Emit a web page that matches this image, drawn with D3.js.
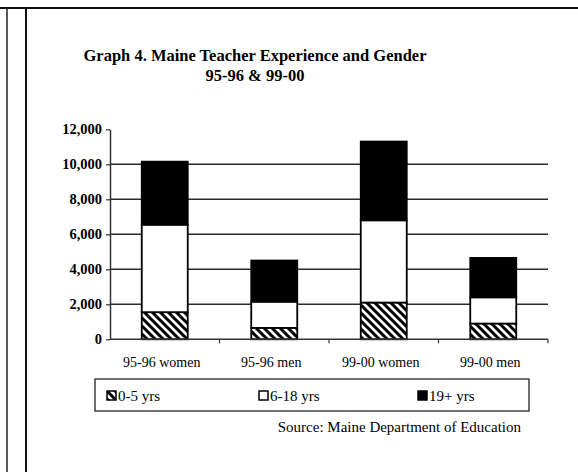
<!DOCTYPE html>
<html>
<head>
<meta charset="utf-8">
<script src="https://cdn.jsdelivr.net/npm/d3@7"></script>
<style>
  html, body { margin: 0; padding: 0; background: #fff; }
  svg text { font-family: "Liberation Serif", "Times New Roman", serif; fill: #000; }
</style>
</head>
<body>
<svg id="chart" width="578" height="472"></svg>
<script>
// chart data
let categories = ['95-96 women', '95-96 men', '99-00 women', '99-00 men'];
let seriesNames = ['0-5 yrs', '6-18 yrs', '19+ yrs'];
let yrs0to5 = [1550, 650, 2100, 900];
let yrs6to18 = [5000, 1500, 4700, 1500];
let yrs19plus = [3600, 2350, 4500, 2250];
let yTicks = [0, 2000, 4000, 6000, 8000, 10000, 12000];
let titleLines = ['Graph 4. Maine Teacher Experience and Gender', '95-96 & 99-00'];
let sourceText = 'Source: Maine Department of Education';

let svg = d3.select('#chart');
let width = +svg.attr('width');
let height = +svg.attr('height');

// page frame (scanned document borders)
svg.append('line')
  .attr('x1', 0).attr('x2', width).attr('y1', 8).attr('y2', 8)
  .attr('stroke', '#111').attr('stroke-width', 2);
svg.append('line')
  .attr('x1', 7).attr('x2', 7).attr('y1', 8).attr('y2', height)
  .attr('stroke', '#222').attr('stroke-width', 1.5);
svg.append('line')
  .attr('x1', 26).attr('x2', 26).attr('y1', 8).attr('y2', height)
  .attr('stroke', '#111').attr('stroke-width', 2);

// patterns
let defs = svg.append('defs');
let hatch = defs.append('pattern')
  .attr('id', 'hatch')
  .attr('patternUnits', 'userSpaceOnUse')
  .attr('width', 8).attr('height', 8);
hatch.append('rect').attr('width', 8).attr('height', 8).attr('fill', '#fff');
hatch.append('path')
  .attr('d', 'M-2,-2 L10,10 M-2,6 L2,10 M6,-2 L10,2')
  .attr('stroke', '#000').attr('stroke-width', 3);

let fills = ['url(#hatch)', '#fff', '#000'];

// title
svg.selectAll('.title')
  .data(titleLines)
  .enter()
  .append('text')
  .attr('class', 'title')
  .attr('x', 255)
  .attr('y', (d,i) => 61 + i*20)
  .attr('text-anchor', 'middle')
  .attr('font-size', 16.5)
  .attr('font-weight', 'bold')
  .text(d => d);

// scales
let sx = d3.scaleBand()
  .domain(categories)
  .range([110, 548])
  .paddingInner(0.58)
  .paddingOuter(0.29);

let sy = d3.scaleLinear()
  .domain([0, 12000])
  .range([339.3, 129.3]);

// grid lines
svg.selectAll('.grid')
  .data(yTicks.filter(d => d > 0 && d < 12000))
  .enter()
  .append('line')
  .attr('class', 'grid')
  .attr('x1', 110).attr('x2', 548)
  .attr('y1', d => sy(d)).attr('y2', d => sy(d))
  .attr('stroke', '#2a2a2a')
  .attr('stroke-width', 1.5);

// y axis
let yAxis = svg.append('g')
  .attr('transform', 'translate(110,0)')
  .call(d3.axisLeft(sy).tickValues(yTicks).tickSize(4).tickSizeOuter(0).tickFormat(d3.format(',')));
yAxis.select('.domain').attr('stroke', '#333').attr('stroke-width', 1.5);
yAxis.selectAll('.tick line').attr('stroke', '#333').attr('stroke-width', 1.2);
yAxis.selectAll('.tick text')
  .attr('x', -8)
  .style('font-size', '14.5px')
  .style('font-weight', 'bold')
  .style('font-family', '"Liberation Serif", serif');

// stacked data
let table = categories.map((c,i) => ({
  cat: c,
  '0-5 yrs': yrs0to5[i],
  '6-18 yrs': yrs6to18[i],
  '19+ yrs': yrs19plus[i]
}));
let stacked = d3.stack().keys(seriesNames)(table);

let layers = svg.selectAll('.layer')
  .data(stacked)
  .enter()
  .append('g')
  .attr('class', 'layer')
  .attr('fill', (_,i) => fills[i]);

layers.selectAll('rect')
  .data(d => d)
  .enter()
  .append('rect')
  .attr('x', d => sx(d.data.cat))
  .attr('y', d => sy(d[1]))
  .attr('width', sx.bandwidth())
  .attr('height', d => sy(d[0]) - sy(d[1]))
  .attr('stroke', '#000')
  .attr('stroke-width', 1.8);

// x axis
let x0 = 110, x1 = 548, y0 = sy(0);
svg.append('line')
  .attr('x1', x0).attr('x2', x1).attr('y1', y0).attr('y2', y0)
  .attr('stroke', '#333').attr('stroke-width', 1.5);
svg.selectAll('.xtick')
  .data(categories)
  .enter()
  .append('line')
  .attr('class', 'xtick')
  .attr('x1', d => sx(d) - sx.step()*sx.paddingOuter() + sx.step())
  .attr('x2', d => sx(d) - sx.step()*sx.paddingOuter() + sx.step())
  .attr('y1', y0).attr('y2', y0 + 4)
  .attr('stroke', '#333').attr('stroke-width', 1.2);

svg.selectAll('.xlabel')
  .data(categories)
  .enter()
  .append('text')
  .attr('class', 'xlabel')
  .attr('x', d => sx(d) + sx.bandwidth()/2 - 3)
  .attr('y', 367)
  .attr('text-anchor', 'middle')
  .attr('font-size', 14)
  .text(d => d);

// legend
svg.append('rect')
  .attr('x', 95).attr('y', 379)
  .attr('width', 434).attr('height', 32)
  .attr('fill', '#fff')
  .attr('stroke', '#222')
  .attr('stroke-width', 1.3);

let legendX = [107, 259, 418];
let legendItems = svg.selectAll('.legend')
  .data(seriesNames)
  .enter()
  .append('g')
  .attr('class', 'legend')
  .attr('transform', (_,i) => `translate(${legendX[i]},391)`);

legendItems.append('rect')
  .attr('width', 9).attr('height', 9)
  .attr('fill', (_,i) => fills[i])
  .attr('stroke', '#000')
  .attr('stroke-width', 1.5);

legendItems.append('text')
  .attr('x', 11)
  .attr('y', 10)
  .attr('font-size', 15)
  .text(d => d);

// source note
svg.append('text')
  .attr('x', 521)
  .attr('y', 432)
  .attr('text-anchor', 'end')
  .attr('font-size', 15)
  .text(sourceText);
</script>
</body>
</html>
